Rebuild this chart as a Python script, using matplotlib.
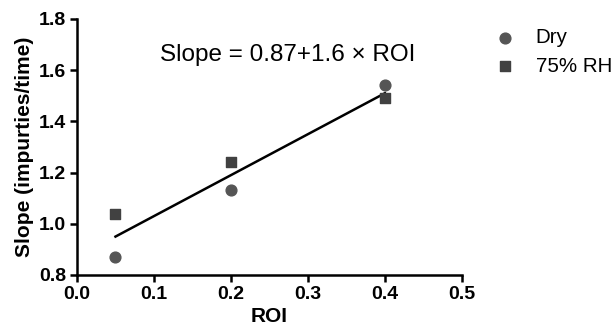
import matplotlib
matplotlib.use('Agg')
from matplotlib import pyplot as plt
import numpy as np

plt.rcParams['font.family'] = ['Liberation Sans', 'DejaVu Sans']

roi = [0.05, 0.2, 0.4]
dry = [0.87, 1.13, 1.54]
rh75 = [1.04, 1.24, 1.49]
fit_intercept = 0.87
fit_slope = 1.6

fig = plt.figure(figsize=(6.13, 3.33), dpi=100)
ax = fig.add_axes([0.1256, 0.1742, 0.628, 0.769])

ax.scatter(roi, dry, marker='o', s=60, color='#555555', label='Dry', zorder=3)
ax.scatter(roi, rh75, marker='s', s=60, color='#414141', label='75% RH', zorder=3)

xfit = np.array([min(roi), max(roi)])
ax.plot(xfit, fit_intercept + fit_slope * xfit, color='black', lw=1.8, zorder=2)

ax.text(0.274, 1.66, 'Slope = 0.87+1.6 \u00d7 ROI', fontsize=17.5, ha='center', va='center')

ax.set_xlim(0, 0.5)
ax.set_ylim(0.8, 1.8)
ax.set_xticks([0.0, 0.1, 0.2, 0.3, 0.4, 0.5])
ax.set_yticks([0.8, 1.0, 1.2, 1.4, 1.6, 1.8])
ax.xaxis.set_major_formatter(matplotlib.ticker.FormatStrFormatter('%.1f'))
ax.yaxis.set_major_formatter(matplotlib.ticker.FormatStrFormatter('%.1f'))

for s in ['top', 'right']:
    ax.spines[s].set_visible(False)
for s in ['left', 'bottom']:
    ax.spines[s].set_linewidth(1.8)
ax.tick_params(width=1.8, length=5, labelsize=14, direction='out', pad=3)
for lbl in ax.get_xticklabels() + ax.get_yticklabels():
    lbl.set_fontweight('bold')

ax.set_xlabel('ROI', fontsize=15, fontweight='bold', labelpad=3)
ax.set_ylabel('Slope (impurties/time)', fontsize=15, fontweight='bold', labelpad=3)

ax.legend(loc='upper left', bbox_to_anchor=(1.058, 0.963), frameon=False, fontsize=14.8,
          handletextpad=0.5, labelspacing=0.45, borderaxespad=0, borderpad=0)

fig.savefig('out.png', dpi=100)
